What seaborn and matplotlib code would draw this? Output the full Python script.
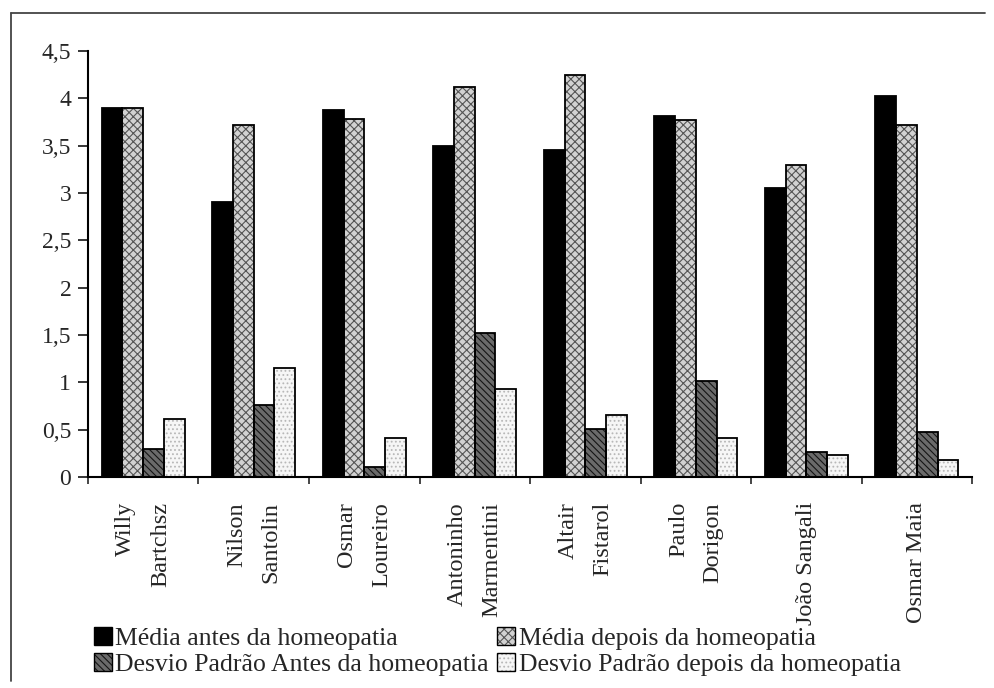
import numpy as np
import pandas as pd
import matplotlib
matplotlib.use('Agg')
import matplotlib.pyplot as plt
from matplotlib.patches import Rectangle
from matplotlib.lines import Line2D
import seaborn as sns

# Dados
nomes = ['Willy\nBartchsz', 'Nilson\nSantolin', 'Osmar\nLoureiro', 'Antoninho\nMarmentini',
         'Altair\nFistarol', 'Paulo\nDorigon', 'João Sangali', 'Osmar Maia']
series = ['Média antes da homeopatia', 'Média depois da homeopatia',
          'Desvio Padrão Antes da homeopatia', 'Desvio Padrão depois da homeopatia']
media_antes = [3.90, 2.90, 3.88, 3.50, 3.45, 3.81, 3.05, 4.02]
media_depois = [3.90, 3.72, 3.78, 4.12, 4.25, 3.77, 3.29, 3.72]
dp_antes = [0.30, 0.76, 0.11, 1.52, 0.51, 1.01, 0.26, 0.48]
dp_depois = [0.61, 1.15, 0.41, 0.93, 0.65, 0.41, 0.23, 0.18]
yticks = [0, 0.5, 1, 1.5, 2, 2.5, 3, 3.5, 4, 4.5]

df = pd.DataFrame({'nome': nomes * 4,
                   'serie': np.repeat(series, len(nomes)),
                   'valor': media_antes + media_depois + dp_antes + dp_depois})

sns.set_style('white')
plt.rcParams['font.family'] = ['Liberation Serif', 'DejaVu Serif']
plt.rcParams['hatch.linewidth'] = 0.8

fig = plt.figure(figsize=(9.95, 6.88), dpi=100)
ax = fig.add_axes([0.0884, 0.3067, 0.8886, 0.6193])

sns.barplot(data=df, x='nome', y='valor', hue='serie', order=nomes, hue_order=series,
            width=0.75, ax=ax, legend=False)

# (cor de fundo, hachura, cor da hachura)
estilos = [('#000000', '', '#000000'),
           ('#d2d2d2', 'xxxx', '#555555'),
           ('#6a6a6a', '\\\\\\\\\\', '#151515'),
           ('#f6f6f6', '....', '#b8b8b8')]
handles = []
for cont, (cor, hatch, hcor) in zip(ax.containers, estilos):
    for p in cont:
        p.set_facecolor(cor)
        p.set_edgecolor(hcor)
        p.set_linewidth(0)
        p.set_hatch(hatch)
        # contorno preto por cima
        ax.add_patch(Rectangle(p.get_xy(), p.get_width(), p.get_height(), fill=False,
                               edgecolor='black', linewidth=1.3, zorder=p.get_zorder() + 0.1))
    fundo = Rectangle((0, 0), 1, 1, facecolor=cor, hatch=hatch, edgecolor=hcor, linewidth=0)
    borda = Rectangle((0, 0), 1, 1, fill=False, edgecolor='black', linewidth=1.0)
    handles.append((fundo, borda))

ax.set_ylim(0, 4.5)
ax.set_xlim(-0.5, len(nomes) - 0.5)
ax.set_yticks(yticks)
ax.set_yticklabels([f'{v:g}'.replace('.', ',') for v in yticks], fontsize=17)
ax.set_xticks(np.arange(len(nomes) + 1) - 0.5)
ax.set_xticklabels([])
ax.set_xticks(np.arange(len(nomes)), minor=True)
ax.set_xticklabels(nomes, minor=True, rotation=90, fontsize=17.5, va='top', ha='center',
                   multialignment='right', linespacing=1.85)
ax.tick_params(axis='x', which='major', direction='out', length=5, width=1.2, bottom=True)
ax.tick_params(axis='x', which='minor', length=0, pad=18)
ax.tick_params(axis='y', direction='out', length=7, width=1.3, left=True, pad=5)
ax.set_xlabel('')
ax.set_ylabel('')
for s in ['top', 'right']:
    ax.spines[s].set_visible(False)
for s in ['left', 'bottom']:
    ax.spines[s].set_color('black')
    ax.spines[s].set_linewidth(1.5)

# legenda em linhas: ordem das colunas trocada para preencher linha a linha
ordem = [0, 2, 1, 3]
fig.legend([handles[i] for i in ordem], [series[i] for i in ordem], loc='upper left',
           bbox_to_anchor=(0.094, 0.088), ncol=2, frameon=False, fontsize=18.5,
           handlelength=0.7, handleheight=0.7, handletextpad=0.15, columnspacing=0.3,
           labelspacing=0.1, borderaxespad=0, borderpad=0)

# moldura do gráfico (só topo e esquerda aparecem no original)
fig.add_artist(Line2D([0.011, 0.011], [0.01, 0.981], transform=fig.transFigure,
                      color='#444444', linewidth=1.3))
fig.add_artist(Line2D([0.011, 0.99], [0.981, 0.981], transform=fig.transFigure,
                      color='#444444', linewidth=1.3))

plt.savefig('out.png', dpi=100)
